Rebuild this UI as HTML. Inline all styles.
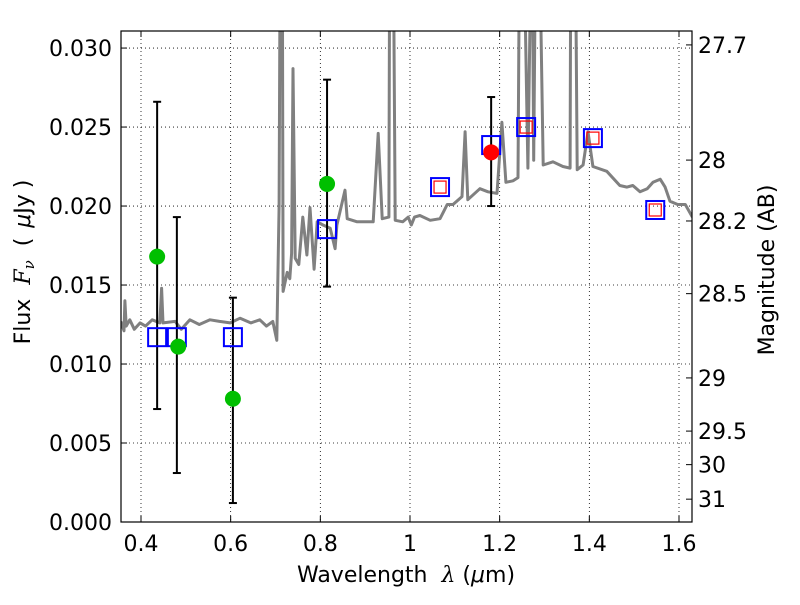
<!DOCTYPE html>
<html><head><meta charset="utf-8"><style>
body{margin:0;background:#fff;}
svg text{font-family:"DejaVu Sans","Liberation Sans",sans-serif;fill:#000;}
</style></head><body>
<svg id="chart" width="800" height="600" xmlns="http://www.w3.org/2000/svg">
<rect width="800" height="600" fill="#fff"/>
<g id="grid"></g>
<g id="spec"></g>
<g id="marks"></g>
<rect x="121" y="31" width="571" height="491" fill="none" stroke="#000" stroke-width="1.2"/>
<g id="axes"></g>
<text x="406" y="582" font-size="22" text-anchor="middle">Wavelength<tspan dx="14" font-family="DejaVu Serif" font-style="italic">λ</tspan> (<tspan font-style="italic">μ</tspan>m)</text>
<text transform="translate(30,262) rotate(-90)" font-size="22" text-anchor="middle">Flux<tspan dx="14" font-family="DejaVu Serif" font-style="italic">F</tspan><tspan font-family="DejaVu Serif" font-style="italic" font-size="15" dy="4">ν</tspan><tspan dy="-4" dx="14">(</tspan><tspan dx="10" font-style="italic">μ</tspan>Jy<tspan dx="6">)</tspan></text>
<text transform="translate(774,270) rotate(-90)" font-size="22" text-anchor="middle">Magnitude (AB)</text>
</svg>
<script>
const specLambda=[0.355,0.362,0.364,0.367,0.375,0.385,0.398,0.410,0.425,0.442,0.446,0.449,0.476,0.490,0.509,0.530,0.554,0.575,0.599,0.621,0.645,0.665,0.680,0.694,0.703,0.708,0.711,0.715,0.717,0.726,0.732,0.736,0.739,0.744,0.752,0.761,0.770,0.777,0.786,0.793,0.806,0.822,0.833,0.837,0.855,0.860,0.882,0.918,0.929,0.938,0.953,0.955,0.962,0.967,0.984,0.996,1.003,1.010,1.022,1.045,1.067,1.074,1.083,1.096,1.116,1.123,1.129,1.156,1.174,1.194,1.205,1.214,1.230,1.241,1.245,1.252,1.263,1.272,1.276,1.281,1.287,1.297,1.319,1.341,1.357,1.359,1.368,1.373,1.386,1.397,1.408,1.439,1.468,1.484,1.497,1.513,1.529,1.542,1.558,1.569,1.580,1.597,1.614,1.630];
const specFlux=[0.0127,0.0121,0.0140,0.0124,0.0128,0.0122,0.0126,0.0124,0.0128,0.0126,0.0148,0.0126,0.0127,0.0122,0.0128,0.0125,0.0128,0.0127,0.0126,0.0129,0.0126,0.0128,0.0124,0.0127,0.0115,0.0200,0.040,0.040,0.0146,0.0158,0.0154,0.0170,0.0287,0.0167,0.0163,0.0193,0.0169,0.0199,0.0160,0.0190,0.0188,0.0186,0.0173,0.0188,0.0210,0.0192,0.0190,0.0190,0.0246,0.0192,0.0193,0.040,0.040,0.0191,0.0190,0.0193,0.0188,0.0193,0.0194,0.0191,0.0192,0.0196,0.0201,0.0201,0.0206,0.0247,0.0204,0.0211,0.0209,0.0208,0.0253,0.0215,0.0216,0.0218,0.040,0.040,0.0224,0.040,0.0229,0.040,0.040,0.0226,0.0228,0.0225,0.0224,0.040,0.040,0.0223,0.0226,0.0247,0.0225,0.0222,0.0213,0.0212,0.0213,0.0209,0.0211,0.0215,0.0217,0.0212,0.0203,0.0201,0.0201,0.0193];
const obsLambda=[0.436,0.480,0.605,0.815,1.181];
const obsLow=[0.00715,0.0031,0.0012,0.0149,0.0200];
const obsHigh=[0.0266,0.0193,0.0142,0.0280,0.0269];
const greenLambda=[0.436,0.483,0.605,0.815];
const greenFlux=[0.0168,0.0111,0.0078,0.0214];
const redLambda=[1.181];
const redFlux=[0.0234];
const blueLambda=[0.436,0.480,0.605,0.815,1.067,1.181,1.259,1.408,1.547];
const blueFlux=[0.0117,0.0117,0.0117,0.01854,0.0212,0.02386,0.0250,0.0243,0.01975];
const redSqLambda=[1.067,1.259,1.408,1.547];
const redSqFlux=[0.0212,0.0250,0.0243,0.01975];
const xTicks=[0.4,0.6,0.8,1.0,1.2,1.4,1.6];
const xTickLabels=["0.4","0.6","0.8","1","1.2","1.4","1.6"];
const yTicks=[0,0.005,0.010,0.015,0.020,0.025,0.030];
const yTickLabels=["0.000","0.005","0.010","0.015","0.020","0.025","0.030"];
const magTicks=[27.7,28,28.2,28.5,29,29.5,30,31];
const magTickLabels=["27.7","28","28.2","28.5","29","29.5","30","31"];

const X0=121,X1=692,Y0=522,Y1=31;
const xmin=0.3554,xmax=1.6290,ymin=0,ymax=0.03108;
const sx=v=>X0+(v-xmin)/(xmax-xmin)*(X1-X0);
const sy=v=>Y0-(v-ymin)/(ymax-ymin)*(Y0-Y1);
const NS="http://www.w3.org/2000/svg";
function mk(tag,attrs,parent){const e=document.createElementNS(NS,tag);for(const k in attrs)e.setAttribute(k,attrs[k]);parent.appendChild(e);return e;}
const grid=document.getElementById('grid'),axes=document.getElementById('axes'),spec=document.getElementById('spec'),marks=document.getElementById('marks');

xTicks.forEach((t,i)=>{const x=sx(t);
 const g=mk('line',{x1:x,x2:x,y1:Y1,y2:Y0,stroke:'#000','stroke-width':0.8,'stroke-dasharray':'1,3'},grid);
 
 
 mk('line',{x1:x,x2:x,y1:Y0,y2:Y0-6,stroke:'#000'},axes);
 mk('line',{x1:x,x2:x,y1:Y1,y2:Y1+6,stroke:'#000'},axes);
 const tx=mk('text',{x:x,y:551,'font-size':22,'text-anchor':'middle'},axes);tx.textContent=xTickLabels[i];
 
 
});
yTicks.forEach((t,i)=>{const y=sy(t);
 if(t>0){const g=mk('line',{x1:X0,x2:X1,y1:y,y2:y,stroke:'#000','stroke-width':0.8,'stroke-dasharray':'1,3'},grid);
 
 }
 mk('line',{x1:X0,x2:X0+6,y1:y,y2:y,stroke:'#000'},axes);
 const tx=mk('text',{x:112,y:y+8,'font-size':22,'text-anchor':'end'},axes);tx.textContent=yTickLabels[i];
 
 
});
magTicks.forEach((m,i)=>{const y=sy(Math.pow(10,(23.9-m)/2.5));
 mk('line',{x1:X1,x2:X1-6,y1:y,y2:y,stroke:'#000'},axes);
 const tx=mk('text',{x:698,y:y+8,'font-size':22},axes);tx.textContent=magTickLabels[i];
 
 
});

const defs=mk('defs',{},spec);const cp=mk('clipPath',{id:'clip'},defs);mk('rect',{x:X0,y:Y1,width:X1-X0,height:Y0-Y1},cp);
const pts=specLambda.map((l,i)=>sx(l).toFixed(1)+','+sy(specFlux[i]).toFixed(1)).join(' ');
const pl=mk('polyline',{points:pts,fill:'none',stroke:'#808080','stroke-width':3,'stroke-linejoin':'round','clip-path':'url(#clip)'},spec);



obsLambda.forEach((l,i)=>{const x=sx(l),a=sy(obsHigh[i]),b=sy(obsLow[i]);
 const g=mk('g',{},marks);
 
 
 mk('line',{x1:x,x2:x,y1:a,y2:b,stroke:'#000','stroke-width':2},g);
 mk('line',{x1:x-4,x2:x+4,y1:a,y2:a,stroke:'#000','stroke-width':2},g);
 mk('line',{x1:x-4,x2:x+4,y1:b,y2:b,stroke:'#000','stroke-width':2},g);
});
blueLambda.forEach((l,i)=>{const r=mk('rect',{x:sx(l)-9,y:sy(blueFlux[i])-9,width:18,height:18,fill:'none',stroke:'#0000ff','stroke-width':2},marks);
 
 
});
redSqLambda.forEach((l,i)=>{const r=mk('rect',{x:sx(l)-6,y:sy(redSqFlux[i])-6,width:12,height:12,fill:'none',stroke:'#ff0000','stroke-width':1.2},marks);
 
 
});
greenLambda.forEach((l,i)=>{const c=mk('circle',{cx:sx(l),cy:sy(greenFlux[i]),r:8,fill:'#00bf00'},marks);
 
 
});
redLambda.forEach((l,i)=>{const c=mk('circle',{cx:sx(l),cy:sy(redFlux[i]),r:8,fill:'#ff0000'},marks);
 
 
});
</script>
</body></html>
